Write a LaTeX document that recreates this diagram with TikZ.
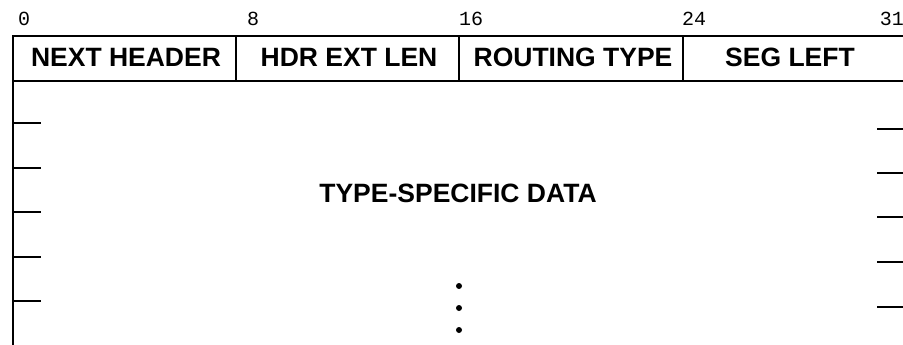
\documentclass[tikz,border=0pt]{standalone}
\usepackage{fontspec}
\setmainfont{Liberation Sans}
\newfontfamily\bitfont{Liberation Mono}
\begin{document}
\begin{tikzpicture}[x=1pt,y=-1pt,
  rule/.style={line width=1.6pt,line cap=rect},
  field/.style={font=\fontsize{26.5}{26.5}\selectfont\bfseries,inner sep=0pt,anchor=center},
  bitlbl/.style={font=\bitfont\fontsize{20}{20}\selectfont,inner sep=0pt,anchor=base west},
  dotmark/.style={fill=black,circle,inner sep=0pt,minimum size=6pt}]
\useasboundingbox (0,0) rectangle (903,345);
% header row
\draw[rule] (13,345) -- (13,36) -- (903,36);
\draw[rule] (13,81) -- (903,81);
\draw[rule] (236,36) -- (236,81);
\draw[rule] (459,36) -- (459,81);
\draw[rule] (683,36) -- (683,81);
% bit labels
\node[bitlbl] (b0) at (18,26) {0};
\node[bitlbl] (b8) at (247,26) {8};
\node[bitlbl] (b16) at (459,26) {16};
\node[bitlbl] (b24) at (682,26) {24};
\node[bitlbl,anchor=base east] (b31) at (904,26) {31};
% field names
\node[field] (nh) at (126,57) {NEXT HEADER};
\node[field] (hel) at (349,57) {HDR EXT LEN};
\node[field] (rt) at (573,57) {ROUTING TYPE};
\node[field] (sl) at (790,57) {SEG LEFT};
\node[field] (tsd) at (458,193) {TYPE-SPECIFIC DATA};
% ticks
\foreach \y in {123,168,212,257,301} \draw[rule] (13,\y) -- (40,\y);
\foreach \y in {129,173,217,262,307} \draw[rule] (878,\y) -- (903,\y);
% dots
\node[dotmark] (d1) at (459,286) {};
\node[dotmark] (d2) at (459,308) {};
\node[dotmark] (d3) at (459,330) {};
\end{tikzpicture}
\end{document}
